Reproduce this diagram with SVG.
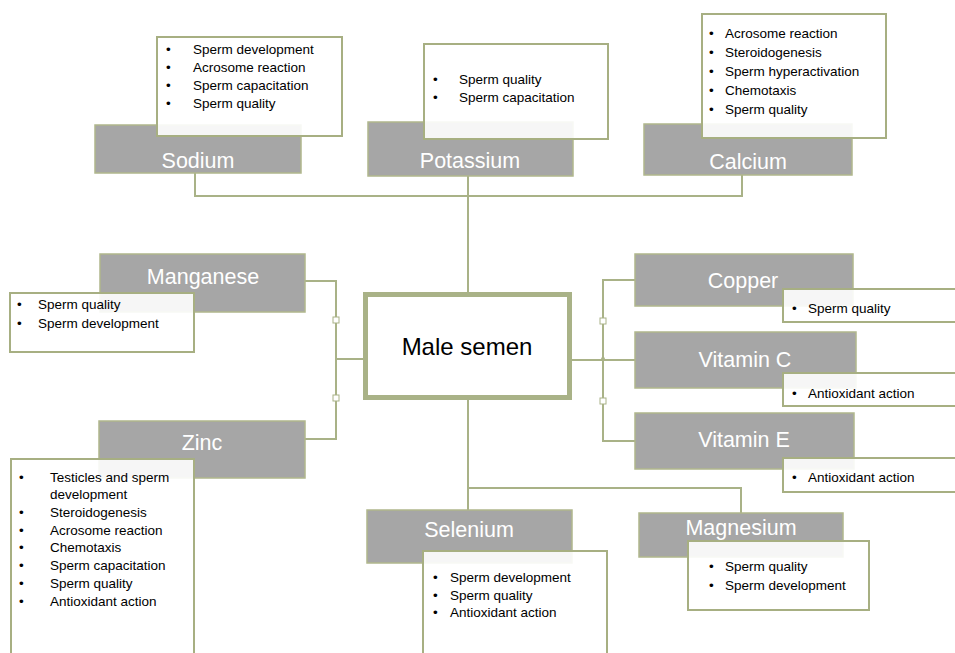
<svg xmlns="http://www.w3.org/2000/svg" width="955" height="653" viewBox="0 0 955 653">
<style>
.g{fill:#A6A6A6;stroke:#B0B78C;stroke-width:1.5}
.w{fill:#FFFFFF;fill-opacity:0.9;stroke:#A7AF82;stroke-width:2}
.t{font-family:"Liberation Sans",Arial,sans-serif;font-size:21.5px;fill:#FFFFFF;text-anchor:middle}
.b{font-family:"Liberation Sans",Arial,sans-serif;font-size:13.5px;fill:#000000}
.c{fill:none;stroke:#A9B287;stroke-width:2}
.sq{fill:#FFFFFF;stroke:#A9B287;stroke-width:1}
</style>
<rect width="955" height="653" fill="#FFFFFF"/>
<g id="connectors">
<polyline class="c" points="195,173 195,196 742,196 742,175"/>
<line class="c" x1="468" y1="176" x2="468" y2="294"/>
<polyline class="c" points="305,281 336,281 336,439 305,439"/>
<line class="c" x1="336" y1="359" x2="366" y2="359"/>
<line class="c" x1="570" y1="360" x2="635" y2="360"/>
<polyline class="c" points="635,280 603,280 603,441 635,441"/>
<polyline class="c" points="468,400 468,510"/>
<polyline class="c" points="468,488 741,488 741,513"/>
<rect class="sq" x="333" y="317" width="6" height="6"/>
<rect class="sq" x="333" y="395" width="6" height="6"/>
<rect class="sq" x="600" y="318" width="6" height="6"/>
<rect class="sq" x="600" y="398" width="6" height="6"/>
<circle cx="603" cy="359" r="2" fill="#A9B287"/>
</g>
<g id="male-semen">
<rect x="365.5" y="294.5" width="204" height="103" fill="#FFFFFF" stroke="#A9B287" stroke-width="5"/>
<text x="467" y="355" style="font-family:'Liberation Sans',Arial,sans-serif;font-size:24px;fill:#000;text-anchor:middle">Male semen</text>
</g>
<g id="sodium">
<rect class="g" x="95" y="125" width="206" height="48"/>
<text class="t" x="198" y="168">Sodium</text>
<rect class="w" x="157" y="37" width="185" height="99"/>
<text class="b"><tspan x="166" y="54">•</tspan><tspan x="193" y="54">Sperm development</tspan><tspan x="166" y="72">•</tspan><tspan x="193" y="72">Acrosome reaction</tspan><tspan x="166" y="90">•</tspan><tspan x="193" y="90">Sperm capacitation</tspan><tspan x="166" y="108">•</tspan><tspan x="193" y="108">Sperm quality</tspan></text>
</g>
<g id="potassium">
<rect class="g" x="368" y="122" width="205" height="54"/>
<text class="t" x="470" y="168">Potassium</text>
<rect class="w" x="424" y="44" width="184" height="95"/>
<text class="b"><tspan x="433" y="84">•</tspan><tspan x="459" y="84">Sperm quality</tspan><tspan x="433" y="102">•</tspan><tspan x="459" y="102">Sperm capacitation</tspan></text>
</g>
<g id="calcium">
<rect class="g" x="644" y="124" width="208" height="51"/>
<text class="t" x="748" y="169">Calcium</text>
<rect class="w" x="702" y="14" width="184" height="124"/>
<text class="b"><tspan x="709" y="38">•</tspan><tspan x="725" y="38">Acrosome reaction</tspan><tspan x="709" y="57">•</tspan><tspan x="725" y="57">Steroidogenesis</tspan><tspan x="709" y="76">•</tspan><tspan x="725" y="76">Sperm hyperactivation</tspan><tspan x="709" y="95">•</tspan><tspan x="725" y="95">Chemotaxis</tspan><tspan x="709" y="114">•</tspan><tspan x="725" y="114">Sperm quality</tspan></text>
</g>
<g id="manganese">
<rect class="g" x="100" y="254" width="205" height="58"/>
<text class="t" x="203" y="284">Manganese</text>
<rect class="w" x="10" y="293" width="184" height="59"/>
<text class="b"><tspan x="17" y="309">•</tspan><tspan x="38" y="309">Sperm quality</tspan><tspan x="17" y="328">•</tspan><tspan x="38" y="328">Sperm development</tspan></text>
</g>
<g id="zinc">
<rect class="g" x="99" y="421" width="206" height="57"/>
<text class="t" x="202" y="450">Zinc</text>
<rect class="w" x="11" y="459" width="183" height="200"/>
<text class="b"><tspan x="19" y="482">•</tspan><tspan x="50" y="482">Testicles and sperm</tspan><tspan x="50" y="499">development</tspan><tspan x="19" y="517">•</tspan><tspan x="50" y="517">Steroidogenesis</tspan><tspan x="19" y="535">•</tspan><tspan x="50" y="535">Acrosome reaction</tspan><tspan x="19" y="552">•</tspan><tspan x="50" y="552">Chemotaxis</tspan><tspan x="19" y="570">•</tspan><tspan x="50" y="570">Sperm capacitation</tspan><tspan x="19" y="588">•</tspan><tspan x="50" y="588">Sperm quality</tspan><tspan x="19" y="606">•</tspan><tspan x="50" y="606">Antioxidant action</tspan></text>
</g>
<g id="copper">
<rect class="g" x="635" y="254" width="218" height="52"/>
<text class="t" x="743" y="288">Copper</text>
<rect class="w" x="783" y="289" width="180" height="33"/>
<text class="b"><tspan x="792" y="313">•</tspan><tspan x="808" y="313">Sperm quality</tspan></text>
</g>
<g id="vitamin-c">
<rect class="g" x="635" y="332" width="221" height="56"/>
<text class="t" x="745" y="367">Vitamin C</text>
<rect class="w" x="783" y="373" width="180" height="33"/>
<text class="b"><tspan x="792" y="398">•</tspan><tspan x="808" y="398">Antioxidant action</tspan></text>
</g>
<g id="vitamin-e">
<rect class="g" x="635" y="413" width="219" height="56"/>
<text class="t" x="744" y="447">Vitamin E</text>
<rect class="w" x="783" y="458" width="180" height="34"/>
<text class="b"><tspan x="792" y="482">•</tspan><tspan x="808" y="482">Antioxidant action</tspan></text>
</g>
<g id="selenium">
<rect class="g" x="367" y="510" width="205" height="53"/>
<text class="t" x="469" y="537">Selenium</text>
<rect class="w" x="423" y="551" width="184" height="110"/>
<text class="b"><tspan x="433" y="582">•</tspan><tspan x="450" y="582">Sperm development</tspan><tspan x="433" y="600">•</tspan><tspan x="450" y="600">Sperm quality</tspan><tspan x="433" y="617">•</tspan><tspan x="450" y="617">Antioxidant action</tspan></text>
</g>
<g id="magnesium">
<rect class="g" x="639" y="513" width="204" height="44"/>
<text class="t" x="741" y="535">Magnesium</text>
<rect class="w" x="688" y="541" width="181" height="69"/>
<text class="b"><tspan x="709" y="571">•</tspan><tspan x="725" y="571">Sperm quality</tspan><tspan x="709" y="590">•</tspan><tspan x="725" y="590">Sperm development</tspan></text>
</g>
</svg>
